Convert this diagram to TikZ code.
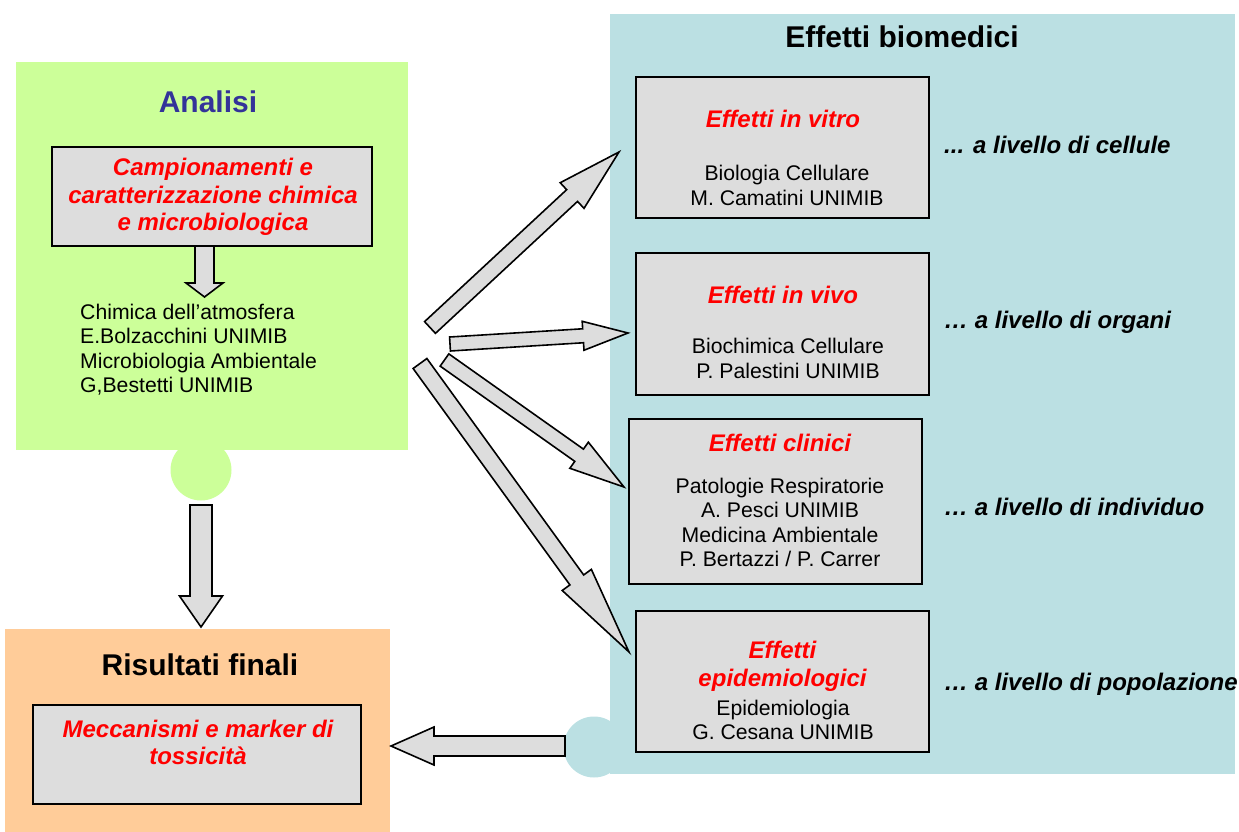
\documentclass[tikz,border=0pt]{standalone}
\usepackage{fontspec}
\setmainfont{Liberation Sans}
\usetikzlibrary{calc}
\definecolor{pgreen}{HTML}{CCFF99}
\definecolor{pblue}{HTML}{BBE0E3}
\definecolor{porange}{HTML}{FFCC99}
\definecolor{boxgray}{HTML}{DDDDDD}
\definecolor{titleblue}{HTML}{333399}
\definecolor{tred}{HTML}{FF0000}
\newcommand\blockarr[5]{%
  \coordinate (#1-#2-h) at ($(#2)!#5!(#1)$);
  \draw[barrow] ($(#1)!#3!90:(#2)$) -- ($(#1-#2-h)!#3!90:(#2)$) -- ($(#1-#2-h)!#4!90:(#2)$) -- (#2)
    -- ($(#1-#2-h)!#4!-90:(#2)$) -- ($(#1-#2-h)!#3!-90:(#2)$) -- ($(#1)!#3!-90:(#2)$) -- cycle;}
\tikzset{
  panel/.style={draw=none, inner sep=0pt, outer sep=0pt},
  graybox/.style={draw=black, line width=2pt, fill=boxgray, inner sep=0pt, outer sep=0pt},
  bubble/.style={circle, draw=none, inner sep=0pt, minimum size=61pt},
  barrow/.style={draw=black, fill=boxgray, line width=1.6pt, line join=miter},
  title/.style={font=\fontsize{30}{34}\selectfont\bfseries, inner sep=0pt},
  redt/.style={text=tred, font=\fontsize{24}{27.5}\selectfont\bfseries\itshape, align=center, inner sep=0pt},
  body/.style={font=\fontsize{21.2}{24.5}\selectfont, align=center, inner sep=0pt},
  level/.style={font=\fontsize{24}{27}\selectfont\bfseries\itshape, anchor=west, inner sep=0pt}
}
\begin{document}
\begin{tikzpicture}[x=1pt, y=-1pt]
\useasboundingbox (0,0) rectangle (1239,832);
% panels
\node[panel, fill=pblue, minimum width=625pt, minimum height=760pt] (bpanel) at (922.5,394) {};
\node[bubble, fill=pblue] (bbub) at (594,747) {};
\node[panel, fill=pgreen, minimum width=392pt, minimum height=388pt] (gpanel) at (212,256) {};
\node[bubble, fill=pgreen] (gbub) at (201,470) {};
\node[panel, fill=porange, minimum width=385pt, minimum height=203pt] (opanel) at (197.5,730.5) {};
% titles
\node[title, text=titleblue] (tanalisi) at (208,102) {Analisi};
\node[title] (tbio) at (902,37) {Effetti biomedici};
\node[title] (tris) at (200,665) {Risultati finali};
% left boxes
\node[graybox, minimum width=320pt, minimum height=99pt] (camp) at (212,196.5) {};
\node[redt] (campt) at (213,197) {Campionamenti e\\caratterizzazione chimica\\e microbiologica};
\node[body, align=left, anchor=west] (chim) at (80,349.5) {Chimica dell’atmosfera\\E.Bolzacchini UNIMIB\\Microbiologia Ambientale\\G,Bestetti UNIMIB};
\node[graybox, minimum width=328pt, minimum height=99pt] (mecc) at (197,754.5) {};
\node[redt] (mecct) at (198,742.5) {Meccanismi e marker di\\tossicità};
% right boxes
\node[graybox, minimum width=293pt, minimum height=141pt] (bA) at (782.5,147.5) {};
\node[redt] (bAt) at (783,119) {Effetti in vitro};
\node[body] (bAb) at (787,185.5) {Biologia Cellulare\\M. Camatini UNIMIB};
\node[graybox, minimum width=293pt, minimum height=142pt] (bB) at (782.5,324) {};
\node[redt] (bBt) at (783,295) {Effetti in vivo};
\node[body] (bBb) at (788,358.5) {Biochimica Cellulare\\P. Palestini UNIMIB};
\node[graybox, minimum width=293pt, minimum height=165pt] (bC) at (775.5,501.5) {};
\node[redt] (bCt) at (780,443) {Effetti clinici};
\node[body] (bCb) at (780,522.5) {Patologie Respiratorie\\A. Pesci UNIMIB\\Medicina Ambientale\\P. Bertazzi / P. Carrer};
\node[graybox, minimum width=293pt, minimum height=141pt] (bD) at (782.5,681.5) {};
\node[redt] (bDt) at (782.5,666.5) {Effetti\\epidemiologici};
\node[body] (bDb) at (783,720) {Epidemiologia\\G. Cesana UNIMIB};
% level labels
\node[level] (l1) at (944,145) {... a livello di cellule};
\node[level] (l2) at (944,322) {… a livello di organi};
\node[level] (l3) at (944,507) {… a livello di individuo};
\node[level] (l4) at (944,684) {… a livello di popolazione};
% arrow coordinates
\coordinate (s0) at (204.5,246);  \coordinate (e0) at (204.5,297);
\coordinate (s5) at (201,505);    \coordinate (e5) at (201,627);
\coordinate (s6) at (565,746);    \coordinate (e6) at (391,746);
\coordinate (s1) at (430,327.5);  \coordinate (e1) at (619,152);
\coordinate (s2) at (450,344);    \coordinate (e2) at (628,333);
\coordinate (s3) at (444.5,360);  \coordinate (e3) at (624,487);
\coordinate (s4) at (420,363.5);  \coordinate (e4) at (629,652);
\blockarr{s0}{e0}{9.5pt}{18.5pt}{14pt}
\blockarr{s5}{e5}{11pt}{21.5pt}{31pt}
\blockarr{s6}{e6}{10pt}{19pt}{43pt}
\blockarr{s1}{e1}{8pt}{17.5pt}{64pt}
\blockarr{s2}{e2}{7pt}{14.5pt}{45pt}
\blockarr{s3}{e3}{7.5pt}{16pt}{55pt}
\blockarr{s4}{e4}{8.5pt}{18pt}{89pt}
\end{tikzpicture}
\end{document}
